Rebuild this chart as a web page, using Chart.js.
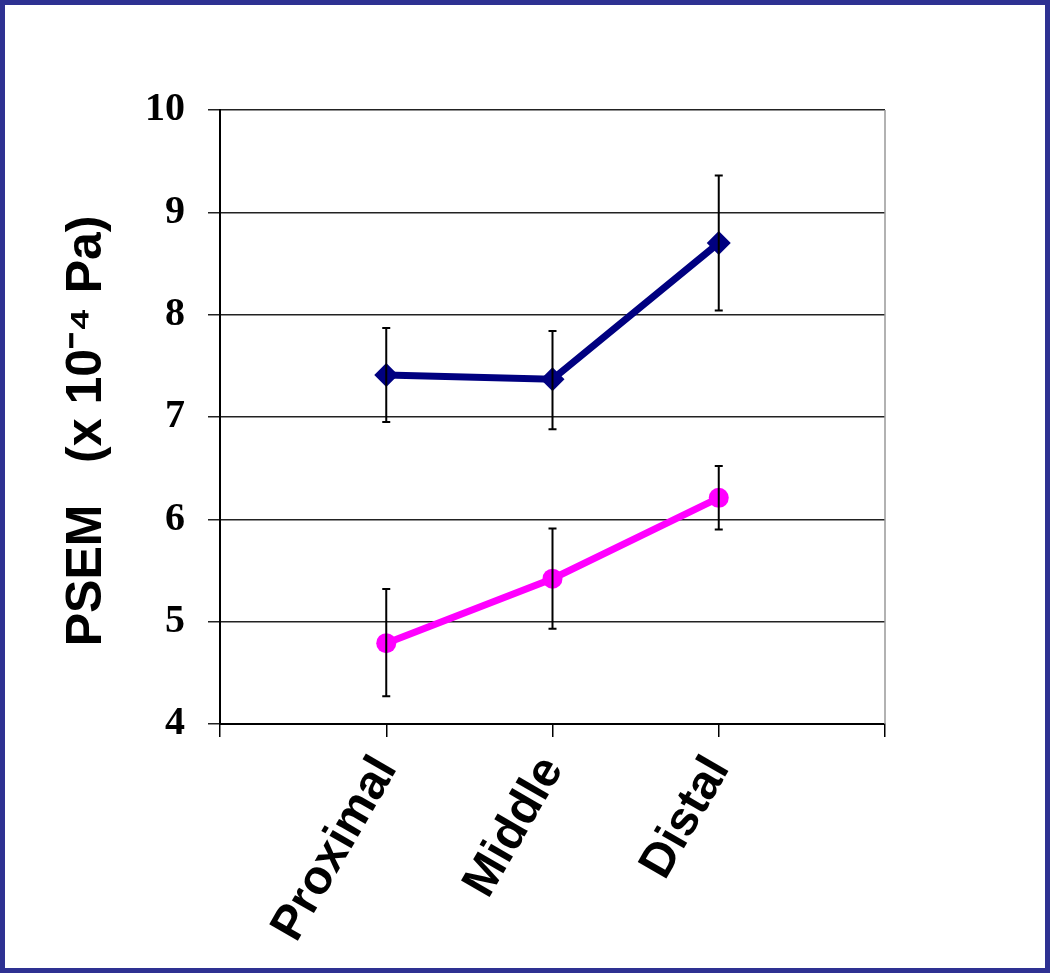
<!DOCTYPE html>
<html>
<head>
<meta charset="utf-8">
<script src="https://cdn.jsdelivr.net/npm/chart.js@4/dist/chart.umd.min.js"></script>
<style>
  html, body { margin: 0; padding: 0; background: #fff; }
  #wrap { width: 1050px; height: 973px; position: relative; }
</style>
</head>
<body>
<div id="wrap"><canvas id="psem" width="1050" height="973"></canvas></div>
<script>
// categories sit at x = 1, 2, 3 on a 0..4 axis
const categories = ["Proximal", "Middle", "Distal"];
const catPos = [1, 2, 3];

const blueVals = [7.41, 7.37, 8.70];
const blueLow = [6.95, 6.88, 8.04];
const blueHigh = [7.87, 7.84, 9.36];

const pinkVals = [4.79, 5.42, 6.21];
const pinkLow = [4.27, 4.93, 5.90];
const pinkHigh = [5.32, 5.91, 6.52];

const yTicks = [4, 5, 6, 7, 8, 9, 10];

const pts = vals => vals.map((v, i) => ({ x: catPos[i], y: v }));

/* error bars + frame */
const extras = {
  id: "extras",
  afterDatasetsDraw(chart) {
    const { ctx, scales } = chart;
    const x = scales.x, y = scales.y;
    const bars = [[blueLow, blueHigh], [pinkLow, pinkHigh]];
    ctx.save();
    ctx.strokeStyle = "#000";
    ctx.lineWidth = 2;
    bars.forEach(([lo, hi]) => {
      catPos.forEach((c, i) => {
        const px = x.getPixelForValue(c);
        const top = y.getPixelForValue(hi[i]);
        const bot = y.getPixelForValue(lo[i]);
        ctx.beginPath();
        ctx.moveTo(px, top); ctx.lineTo(px, bot);
        ctx.moveTo(px - 4, top); ctx.lineTo(px + 4, top);
        ctx.moveTo(px - 4, bot); ctx.lineTo(px + 4, bot);
        ctx.stroke();
      });
    });
    // gray right edge of plot
    const r = x.getPixelForValue(4);
    ctx.strokeStyle = "#999";
    ctx.lineWidth = 1.5;
    ctx.beginPath();
    ctx.moveTo(r, y.getPixelForValue(10));
    ctx.lineTo(r, y.getPixelForValue(4));
    ctx.stroke();
    ctx.restore();
  },
  afterDraw(chart) {
    const ctx = chart.ctx;
    ctx.save();
    ctx.strokeStyle = "#2e3192";
    ctx.lineWidth = 6;
    ctx.strokeRect(2, 2, chart.width - 4, chart.height - 4);
    ctx.restore();
  }
};

new Chart(document.getElementById("psem"), {
  type: "line",
  data: {
    datasets: [
      {
        data: pts(blueVals),
        borderColor: "#000080",
        backgroundColor: "#000080",
        borderWidth: 7,
        pointStyle: "rectRot",
        pointRadius: 12,
        pointBorderWidth: 0,
        tension: 0
      },
      {
        data: pts(pinkVals),
        borderColor: "#ff00ff",
        backgroundColor: "#ff00ff",
        borderWidth: 7,
        pointStyle: "circle",
        pointRadius: 10,
        pointBorderWidth: 0,
        tension: 0
      }
    ]
  },
  options: {
    responsive: false,
    animation: false,
    layout: { padding: { top: 110, right: 165, left: 0, bottom: 0 } },
    plugins: { legend: { display: false }, tooltip: { enabled: false } },
    scales: {
      x: {
        type: "linear",
        min: 0,
        max: 4,
        afterFit: s => { s.height = 249; },
        afterBuildTicks: s => { s.ticks = [0, 1, 2, 3, 4].map(v => ({ value: v })); },
        grid: { drawOnChartArea: false, color: "#000", lineWidth: 1.5, tickLength: 13 },
        border: { color: "#000", width: 2 },
        ticks: {
          autoSkip: false,
          maxRotation: 60,
          minRotation: 60,
          padding: 10,
          color: "#000",
          font: { family: "Liberation Sans, Arial, sans-serif", size: 48, weight: "bold" },
          callback: v => {
            const i = catPos.indexOf(v);
            return i >= 0 ? categories[i] : "";
          }
        }
      },
      y: {
        min: 4,
        max: 10,
        afterFit: s => { s.width = 220; },
        afterBuildTicks: s => { s.ticks = yTicks.map(v => ({ value: v })); },
        grid: { color: "#222", lineWidth: 1.5, tickLength: 12 },
        border: { color: "#000", width: 2 },
        ticks: {
          padding: 23,
          color: "#000",
          font: { family: "Liberation Serif, Times New Roman, serif", size: 40, weight: "bold" }
        },
        title: {
          display: true,
          text: "PSEM   (x 10\u207B\u2074 Pa)  ",
          color: "#000",
          padding: { top: 57, bottom: 0 },
          font: { family: "Liberation Sans, Arial, sans-serif", size: 50, weight: "bold" }
        }
      }
    }
  },
  plugins: [extras]
});
</script>
</body>
</html>
